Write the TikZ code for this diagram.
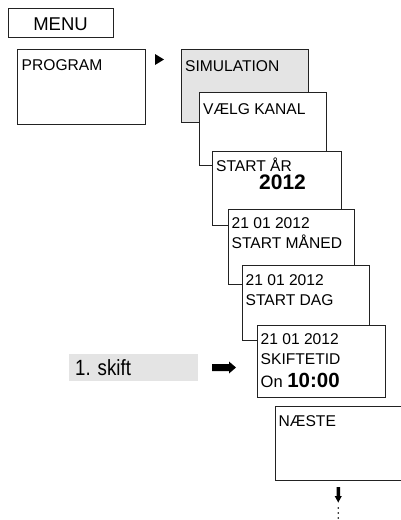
\documentclass[tikz,border=0pt]{standalone}
\usepackage{fontspec}
\setmainfont{Liberation Sans}
\definecolor{boxgray}{HTML}{E4E4E4}
\definecolor{linec}{HTML}{222222}
\tikzset{
  box/.style={draw=linec, line width=0.8pt, fill=white, inner sep=0pt, anchor=north west},
  txt/.style={inner sep=0pt, anchor=base west, font=\fontsize{15.6}{18}\selectfont},
  bigtxt/.style={inner sep=0pt, anchor=base west, font=\fontsize{21}{24}\selectfont\bfseries},
  symb/.style={fill=black},
}
\begin{document}
\begin{tikzpicture}[x=1pt,y=-1pt]
\useasboundingbox (0,0) rectangle (400,520);
% MENU
\node[box, minimum width=105pt, minimum height=29pt] (menu) at (8,8) {};
\node[inner sep=0pt, anchor=base, font=\fontsize{18.5}{20}\selectfont] (menut) at (60.5,30) {MENU};
% PROGRAM
\node[box, minimum width=128pt, minimum height=75pt] (prog) at (17,49) {};
\node[txt] (progt) at (21.5,70) {PROGRAM};
% triangle
\fill[symb] (155,54) -- (164,59.5) -- (155,65) -- cycle;
% stack of boxes
\node[box, fill=boxgray, minimum width=127pt, minimum height=73pt] (sim) at (181,49) {};
\node[txt] (simt) at (185,71.5) {SIMULATION};
\node[box, minimum width=127pt, minimum height=73pt] (vaelg) at (199,92) {};
\node[txt] (vaelgt) at (203,114) {VÆLG KANAL};
\node[box, minimum width=129pt, minimum height=74pt] (aar) at (212,151) {};
\node[txt] (aart) at (216,171.5) {START ÅR};
\node[bigtxt] (aarv) at (259,189) {2012};
\node[box, minimum width=126pt, minimum height=75pt] (maaned) at (228,209) {};
\node[txt] (maanedd) at (231.5,228) {21 01 2012};
\node[txt] (maanedt) at (231.5,248) {START MÅNED};
\node[box, minimum width=127pt, minimum height=75pt] (dag) at (242,265) {};
\node[txt] (dagd) at (245.5,285) {21 01 2012};
\node[txt] (dagt) at (245.5,305) {START DAG};
\node[box, minimum width=128pt, minimum height=72pt] (skift) at (257,325) {};
\node[txt] (skiftd) at (260.5,344) {21 01 2012};
\node[txt] (skiftt) at (260.5,364) {SKIFTETID};
\node[txt] (skifton) at (260.5,387.5) {\fontsize{16.5}{18}\selectfont On \fontsize{20.5}{22}\selectfont\bfseries 10:00};
\node[box, minimum width=127pt, minimum height=74pt] (naeste) at (275,406) {};
\node[txt] (naestet) at (278.5,426) {NÆSTE};
% 1. skift label
\node[inner sep=0pt, fill=boxgray, anchor=north west, minimum width=129pt, minimum height=27pt] (lbl) at (69,354) {};
\node[inner sep=0pt, anchor=base west, font=\fontsize{22}{24}\selectfont] (lblt) at (75,375.5) {\scalebox{0.85}[1]{1. skift}};
% right arrow
\fill[symb] (212,364) -- (229,364) -- (229,361.5) -- (236,367.5) -- (229,373.5) -- (229,371) -- (212,371) -- cycle;
% down arrow
\fill[symb] (336.5,487) -- (340,487) -- (340,496) -- (341.8,496) -- (338.25,502.5) -- (334.7,496) -- (336.5,496) -- cycle;
\fill[symb] (338.25,508) circle (0.8);
\fill[symb] (338.25,513) circle (0.8);
\fill[symb] (338.25,518) circle (0.8);
\end{tikzpicture}
\end{document}
